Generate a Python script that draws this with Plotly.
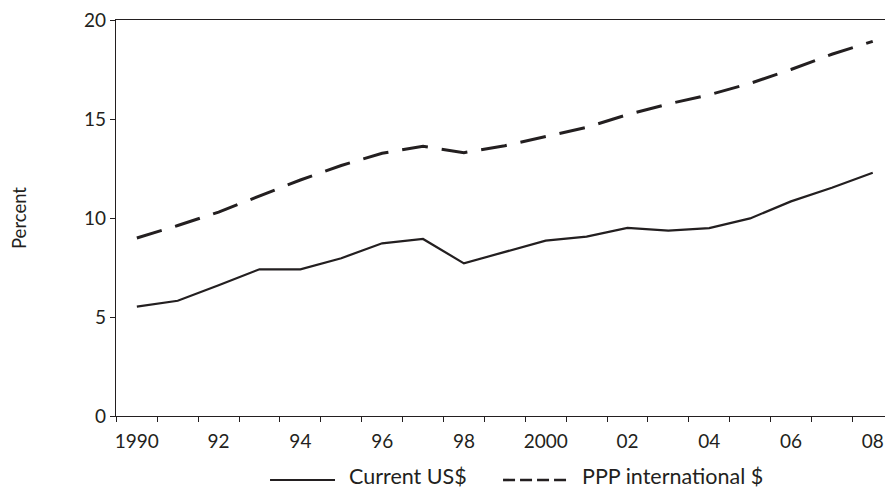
import plotly.graph_objects as go

years = list(range(1990, 2009))
current_usd = [5.52, 5.82, 6.6, 7.41, 7.41, 7.97, 8.72, 8.94, 7.71, 8.27, 8.86, 9.06, 9.5, 9.36, 9.49, 9.98, 10.84, 11.53, 12.29]
ppp_intl = [8.99, 9.62, 10.3, 11.12, 11.92, 12.65, 13.27, 13.62, 13.3, 13.65, 14.1, 14.58, 15.22, 15.76, 16.22, 16.8, 17.5, 18.27, 18.92]
series_names = ["Current US$", "PPP international $"]
xtick_vals = [1990, 1992, 1994, 1996, 1998, 2000, 2002, 2004, 2006, 2008]
xtick_text = ["1990", "92", "94", "96", "98", "2000", "02", "04", "06", "08"]
ytick_vals = [0, 5, 10, 15, 20]

INK = "#231f20"
FONT = "Lato"

fig = go.Figure()
fig.add_trace(go.Scatter(x=years, y=current_usd, mode="lines", name=series_names[0],
                         line=dict(color=INK, width=2.2), showlegend=False))
fig.add_trace(go.Scatter(x=years, y=ppp_intl, mode="lines", name=series_names[1],
                         line=dict(color=INK, width=3, dash="26px,14px"), showlegend=False))

fig.update_layout(
    width=885, height=491,
    margin=dict(l=116, r=0, t=20, b=75),
    paper_bgcolor="white", plot_bgcolor="white",
    font=dict(family=FONT, size=19, color=INK),
    xaxis=dict(
        range=[1989.49, 2008.3],
        tickmode="array", tickvals=xtick_vals, ticktext=xtick_text,
        ticks="outside", ticklen=8, tickcolor="rgba(0,0,0,0)",
        showgrid=False, zeroline=False,
        showline=True, linecolor=INK, linewidth=1.3, mirror=True,
        minor=dict(tickmode="linear", tick0=1989.5, dtick=1, ticks="outside",
                   ticklen=5, tickwidth=1.3, tickcolor=INK, showgrid=False),
    ),
    yaxis=dict(
        range=[0, 20], tickmode="array", tickvals=ytick_vals,
        ticks="outside", ticklen=5, tickwidth=1.3, tickcolor=INK,
        showgrid=False, zeroline=False,
        showline=True, linecolor=INK, linewidth=1.3,
        title=dict(text="Percent", standoff=52, font=dict(size=18.5)),
    ),
)

# Legend drawn manually (long line samples)
leg_y = -0.1616
txt_y = -0.152
fig.add_shape(type="line", xref="paper", yref="paper", x0=0.2003, x1=0.2848, y0=leg_y, y1=leg_y,
              line=dict(color=INK, width=2.2))
fig.add_shape(type="line", xref="paper", yref="paper", x0=0.5033, x1=0.5878, y0=leg_y, y1=leg_y,
              line=dict(color=INK, width=2.6, dash="12px,5px"))
fig.add_annotation(x=0.3017, y=txt_y, xref="paper", yref="paper", text=series_names[0],
                   showarrow=False, xanchor="left", yanchor="middle", borderpad=0,
                   font=dict(size=21.5, color=INK))
fig.add_annotation(x=0.6047, y=txt_y, xref="paper", yref="paper", text=series_names[1],
                   showarrow=False, xanchor="left", yanchor="middle", borderpad=0,
                   font=dict(size=21.5, color=INK))

fig.write_html("out.html", config={"displayModeBar": False},
               post_script="document.body.style.margin='0';document.body.style.overflow='hidden';")
